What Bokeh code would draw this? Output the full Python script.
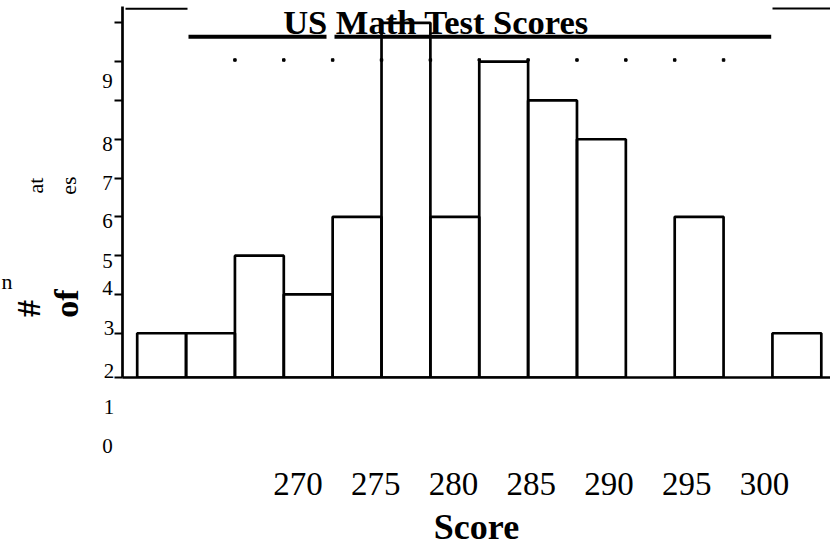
import math
from bokeh.plotting import figure
from bokeh.layouts import row
from bokeh.models import Range1d, FixedTicker, Label
from bokeh.embed import file_html
from bokeh.resources import INLINE

# ---------------- data ----------------
bin_edges = [265.0, 267.5, 270.0, 272.5, 275.0, 277.5, 280.0, 282.5,
             285.0, 287.5, 290.0, 292.5, 295.0, 297.5, 300.0]
counts = [1, 1, 3, 2, 4, 9, 4, 8, 7, 6, 0, 4, 0, 1]
x_ticks = [270, 275, 280, 285, 290, 295, 300]
y_ticks = [1, 2, 3, 4, 5, 6, 7, 8, 9]
y_tick_text = ["9", "8", "7", "6", "5", "4", "3", "2", "1", "0"]
title_text = "US Math Test Scores"
x_title = "Score"
y_title_parts = ["#", "of", "at", "es", "n"]

# ---------------- layout ----------------
W, H = 830, 550
LW = 114                      # width of the left text strip
MW = W - LW                   # width of the main figure
ML, MR, MT, MB = 8, 0, 0, 173
FL, FR, FT, FB = LW + ML, W - MR, MT, H - MB   # main frame in page px

lab_px = (297.5, 764.0)       # page x of first / last x tick label
bin_px = (136.7, 820.8)       # page x of first / last bin edge
y_px_per_unit = 38.8
y0 = -0.14

sx = (lab_px[1] - lab_px[0]) / (x_ticks[-1] - x_ticks[0])
xs = x_ticks[0] - (lab_px[0] - FL) / sx
xe = xs + (FR - FL) / sx
sb = (bin_px[1] - bin_px[0]) / (bin_edges[-1] - bin_edges[0])
bs = bin_edges[0] - (bin_px[0] - FL) / sb
be = bs + (FR - FL) / sb
ye = y0 + (FB - FT) / y_px_per_unit


def X(px):
    return xs + (px - FL) / sx


def Y(py):
    return y0 + (FB - py) / y_px_per_unit


SERIF = "Liberation Serif"

# ---------------- main figure ----------------
p = figure(width=MW, height=H, x_range=Range1d(xs, xe), y_range=Range1d(y0, ye),
           output_backend="svg", toolbar_location=None,
           min_border_left=ML, min_border_right=MR, min_border_top=MT, min_border_bottom=MB)
p.extra_x_ranges = {"bins": Range1d(bs, be)}
p.grid.visible = False
p.outline_line_color = None
p.background_fill_color = "white"
p.border_fill_color = "white"

# histogram bars (empty bins draw nothing)
nz = [i for i, c in enumerate(counts) if c > 0]
p.quad(left=[bin_edges[i] for i in nz], right=[bin_edges[i + 1] for i in nz],
       top=[counts[i] for i in nz], bottom=y0,
       x_range_name="bins", fill_color=None, line_color="black", line_width=2.7)

# dotted marks at bin edges
p.scatter(x=bin_edges[2:13], y=[Y(59.5)] * 11, x_range_name="bins",
          marker="square", size=2.5, color="black")

# broken frame / title rule pieces
p.segment(x0=[X(125), X(188), X(334), X(772)], y0=[Y(8.3), Y(36.3), Y(36.3), Y(8)],
          x1=[X(187), X(326), X(770.7), X(832)], y1=[Y(8.3), Y(36.3), Y(36.3), Y(8)],
          line_color="black", line_width=[2, 4, 4, 2])

# axes
yax = p.yaxis[0]
yticks_all = [y0 + 0.001] + y_ticks
yax.ticker = FixedTicker(ticks=yticks_all)
yax.major_label_overrides = {t: "" for t in yticks_all}
yax.bounds = (y0, Y(6))
yax.major_label_standoff = 0
yax.major_tick_out = 8
yax.major_tick_in = 0
yax.minor_tick_out = 0
yax.minor_tick_in = 0
yax.major_tick_line_width = 2
yax.axis_line_width = 2.7
yax.axis_line_color = "black"
yax.major_tick_line_color = "black"

xax = p.xaxis[0]
xax.ticker = FixedTicker(ticks=x_ticks)
xax.major_tick_out = 0
xax.major_tick_in = 0
xax.minor_tick_out = 0
xax.minor_tick_in = 0
xax.axis_line_width = 2.7
xax.axis_line_color = "black"
xax.major_label_standoff = 95
xax.major_label_text_font = SERIF
xax.major_label_text_font_size = "33px"
xax.major_label_text_color = "black"
xax.axis_label = x_title
xax.axis_label_standoff = 9
xax.axis_label_text_font = SERIF
xax.axis_label_text_font_style = "bold"
xax.axis_label_text_font_size = "36px"
xax.axis_label_text_color = "black"

# title
p.add_layout(Label(x=X(435.5), y=Y(21.7), text=title_text, text_font=SERIF,
                   text_font_style="bold", text_font_size="34.5px", text_color="black",
                   text_align="center", text_baseline="middle"))

# ---------------- left text strip ----------------
side = figure(width=LW, height=H, x_range=Range1d(X(0), X(LW)), y_range=Range1d(Y(H), Y(0)),
              output_backend="svg", toolbar_location=None, min_border=0,
              x_axis_type=None, y_axis_type=None)
side.outline_line_color = None
side.background_fill_color = "white"
side.border_fill_color = "white"

# do not let the row align the two frames
for fig in (side, p):
    if hasattr(fig, "frame_align"):
        fig.frame_align = False

# y tick texts (as positioned in the reference)
ylab_pos = [(107, 80), (107, 143), (107, 182), (107, 220), (107, 260), (107, 287),
            (108.5, 327), (108.5, 370), (108.5, 406), (107, 445)]
for t, (px, py) in zip(y_tick_text, ylab_pos):
    side.add_layout(Label(x=X(px), y=Y(py), text=t, text_font=SERIF,
                          text_font_size="21px", text_color="black",
                          text_align="center", text_baseline="middle"))

# y axis title fragments
frag_pos = [(28, 308, "34px", "bold", math.pi / 2), (66, 303, "34px", "bold", math.pi / 2),
            (35, 185, "22px", "normal", math.pi / 2), (68, 185, "22px", "normal", math.pi / 2),
            (6.5, 281, "22px", "normal", 0.0)]
for t, (px, py, fs, st, ang) in zip(y_title_parts, frag_pos):
    side.add_layout(Label(x=X(px), y=Y(py), text=t, text_font=SERIF, text_font_size=fs,
                          text_font_style=st, text_color="black", angle=ang,
                          text_align="center", text_baseline="middle"))

layout = row(side, p)
open("out.html", "w").write(file_html(layout, INLINE))
